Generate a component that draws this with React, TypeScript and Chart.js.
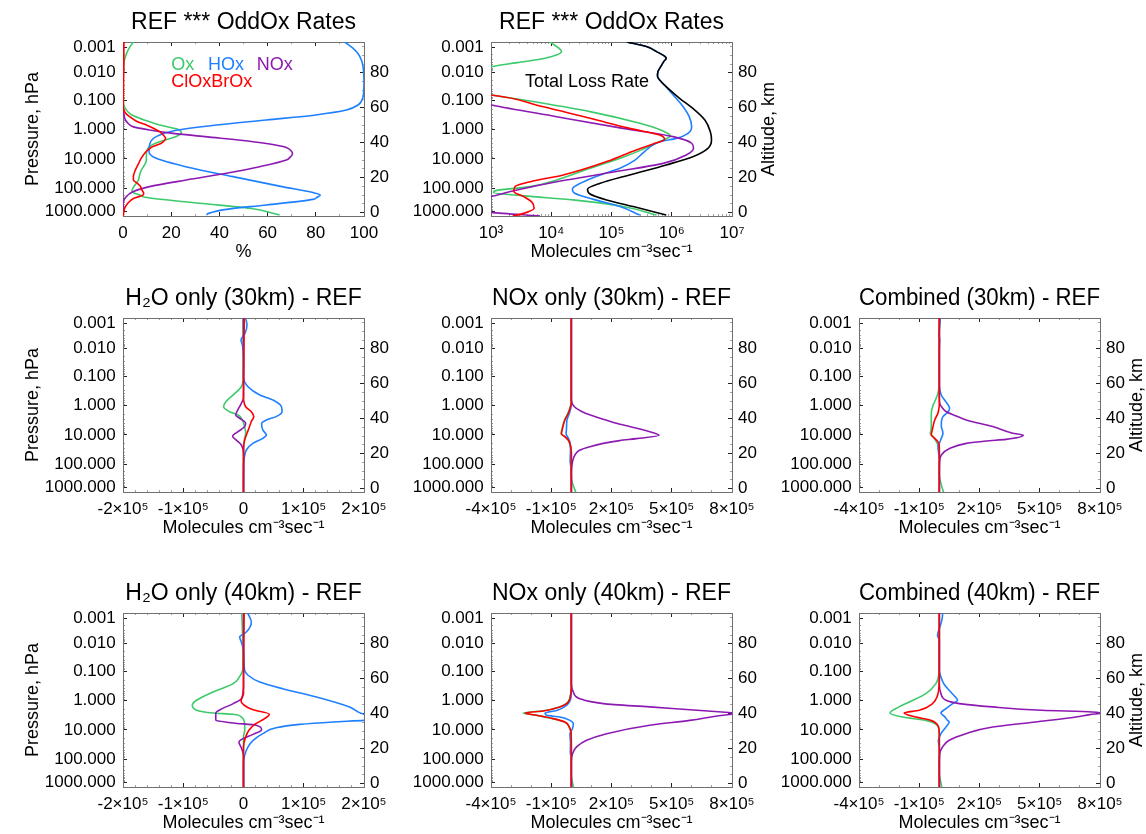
import React, { useEffect, useRef } from 'react';
import { Chart, registerables } from 'chart.js';

Chart.register(...registerables);

const FONT = "'Liberation Sans', Arial, Helvetica, sans-serif";

const OX_COLOR = '#3dca6b';
const HOX_COLOR = '#1f80ff';
const NOX_COLOR = '#8c1ab2';
const CLOX_COLOR = '#ff0000';
const TOTAL_COLOR = '#000000';

// ---- vertical axis: altitude (km); pressure labels sit at their mean altitudes ----
const ALT_MIN = -1.9;
const ALT_MAX = 97.6;
const pressureLabels = ['0.001', '0.010', '0.100', '1.000', '10.000', '100.000', '1000.000'];
const pressureAltitudes = [94.5, 80.4, 64.3, 47.6, 30.7, 14.1, 0.7];
const altitudeTicks = [0, 20, 40, 60, 80];
const altitudeMinorTicks = [5, 10, 15, 25, 30, 35, 45, 50, 55, 65, 70, 75, 85, 90, 95];

// ---- horizontal axes ----
const pctTicks = [0, 20, 40, 60, 80, 100];
const pctTickLabels = ['0', '20', '40', '60', '80', '100'];
const pctMinorTicks = [10, 30, 50, 70, 90];
const rateTicks = [1e3, 1e4, 1e5, 1e6, 1e7];
const rateTickLabels = ['10³', '10⁴', '10⁵', '10⁶', '10⁷'];
const h2oTicks = [-2e5, -1e5, 0, 1e5, 2e5];
const h2oTickLabels = ['-2×10⁵', '-1×10⁵', '0', '1×10⁵', '2×10⁵'];
const h2oMinorTicks = [-1.8e5, -1.6e5, -1.4e5, -1.2e5, -8e4, -6e4, -4e4, -2e4, 2e4, 4e4, 6e4, 8e4, 1.2e5, 1.4e5, 1.6e5, 1.8e5];
const noxTicks = [-4e5, -1e5, 2e5, 5e5, 8e5];
const noxTickLabels = ['-4×10⁵', '-1×10⁵', '2×10⁵', '5×10⁵', '8×10⁵'];
const noxMinorTicks = [-3e5, -2e5, 0, 1e5, 3e5, 4e5, 6e5, 7e5];

// log-spaced minor ticks between the pressure labels
const pressureMinorTicks: number[] = [];
for (let i = 0; i < pressureAltitudes.length - 1; i++) {
  const a = pressureAltitudes[i];
  const b = pressureAltitudes[i + 1];
  for (let k = 2; k <= 9; k++) pressureMinorTicks.push(a + (b - a) * Math.log10(k));
}
const rateMinorTicks: number[] = [];
for (let e = 3; e < 7; e++) for (let k = 2; k <= 9; k++) rateMinorTicks.push(k * 10 ** e);

// ---- profiles: [altitude km, value] ----
// OddOx loss, percent of total
const pctOx: [number, number][] = [[97.6, 4.3], [94, 2.5], [91.1, 1.5], [86.3, 0.4], [80, 0.1], [70, 0.1], [62, 0.3], [58.7, 1.4], [56, 3.5], [54, 6.9], [52, 11], [50.1, 15.2], [47.3, 23.5], [45.4, 24.2], [43.5, 22], [41.5, 17.5], [40, 14], [37.8, 11], [35, 9.8], [32, 9.7], [30, 9.7], [27, 8.8], [24.4, 7.6], [21, 6.8], [18.7, 6.4], [14.9, 4.5], [12.6, 3.7], [11.1, 4.8], [9.8, 7.5], [8.8, 9.0], [5.4, 31.8], [2.5, 52.6], [-1.3, 65]];
const pctHOx: [number, number][] = [[97.6, 92], [94, 95.5], [91, 97.5], [87, 99], [83.5, 99.6], [74, 100], [66.3, 99.6], [63.5, 98.8], [61.6, 97.5], [58.7, 92.7], [55.9, 80], [53, 59.5], [50.1, 38.7], [46.7, 20.7], [43.5, 13.8], [39.7, 11.2], [34.9, 10.8], [31.1, 13.8], [26.3, 26], [20.6, 45.6], [14.9, 66], [11.5, 78.8], [10.1, 81.9], [8.8, 80.5], [7.6, 78.8], [4.4, 59.5], [1.9, 42.9], [-0.4, 35.5], [-1.3, 34.6]];
const pctNOx: [number, number][] = [[97.6, 0], [62, 0], [60.6, 0.1], [55.9, 0.4], [53, 1.0], [51, 2.2], [49.2, 4.1], [47.3, 11], [45.5, 20], [43.5, 34], [40.6, 54], [37.8, 66.4], [35, 70], [33.6, 70.3], [31.5, 69.2], [30.1, 67.8], [26.3, 56.7], [22.5, 42.9], [18.7, 26.3], [14.9, 11], [12, 4.1], [8.8, 1.1], [5.4, 0.1], [-1.9, 0]];
const pctClOx: [number, number][] = [[97.6, 0.4], [70, 0.2], [60.6, 0.1], [57, 1.0], [54.9, 2.8], [52, 6], [50.1, 9.7], [48, 13], [46.3, 15.2], [44, 17], [42.5, 17.7], [41, 17], [39.7, 15.9], [37.8, 12.4], [36, 10.5], [34, 9.0], [31, 7.5], [28.2, 6.5], [24, 5.0], [20.5, 4.3], [18.7, 4.3], [16.8, 6.0], [14.9, 7.3], [13, 7.8], [11.1, 8.6], [10.1, 8.3], [8.2, 4.5], [5.4, 2.0], [2.5, 0.7], [-1.9, 0.1]];

// OddOx loss rates, molecules cm-3 s-1
const rateOx: [number, number][] = [[97.6, 9.5e3], [92.1, 1.48e4], [88.3, 7.9e3], [85.8, 2.7e3], [83.5, 1.0e3], [80, 300], [70, 300], [67.3, 1.0e3], [64.4, 3.5e3], [57.8, 4.4e4], [51.1, 2.95e5], [46.7, 7.2e5], [43.9, 9.5e5], [41.6, 7.2e5], [36.2, 3.3e5], [31.7, 1.55e5], [25.4, 4.4e4], [18.7, 1.23e4], [14.9, 4.5e3], [12.6, 1.2e3], [11.5, 1.1e3], [9.6, 3.5e3], [7.3, 2.3e4], [3.5, 1.55e5], [-1.3, 5.6e5]];
const rateHOx: [number, number][] = [[97.6, 1.8e5], [95, 3.8e5], [92.1, 5.6e5], [89.5, 7.6e5], [88.3, 8.1e5], [86.5, 7.4e5], [84.4, 6.8e5], [80.6, 5.9e5], [78, 5.8e5], [75.9, 6.3e5], [71.1, 8.5e5], [66.3, 1.12e6], [60.6, 1.55e6], [54.9, 1.95e6], [49.2, 2.14e6], [45.4, 1.86e6], [42.5, 1.2e6], [40.6, 6.3e5], [36.8, 4.1e5], [34, 3.3e5], [30.1, 2.45e5], [25.4, 1.38e5], [21.6, 6.5e4], [17.2, 3.2e4], [13.4, 2.24e4], [11.1, 2.45e4], [7.6, 5.0e4], [3.5, 1.38e5], [-1.3, 2.95e5]];
const rateNOx: [number, number][] = [[97.6, 100], [70, 100], [61.6, 1.02e3], [54.9, 1.23e4], [48.2, 1.55e5], [43.5, 1.05e6], [39.7, 2.14e6], [36.8, 2.3e6], [33, 1.74e6], [28.2, 7.2e5], [23.5, 1.2e5], [17.7, 1.23e4], [13, 2.7e3], [9.2, 1.0e3], [5, 300], [2, 500], [0.2, 1.0e3], [-1.9, 6.5e3]];
const rateClOx: [number, number][] = [[97.6, 100], [70, 100], [67.3, 1.0e3], [61, 6.5e3], [54, 4.4e4], [48.2, 2.0e5], [44.4, 6.3e5], [41.9, 7.6e5], [39.3, 4.9e5], [35.9, 2.57e5], [29.2, 8.3e4], [21.6, 1.58e4], [17.7, 4.5e3], [14.9, 2.5e3], [12, 2.4e3], [9.2, 3.5e3], [6.3, 4.7e3], [2.5, 5.2e3], [-0.4, 3.5e3], [-1.9, 2.3e3]];
const rateTotal: [number, number][] = [[97.6, 1.8e5], [95, 3.8e5], [92.1, 5.6e5], [89.5, 7.6e5], [88.3, 8.1e5], [86.5, 7.4e5], [84.4, 6.8e5], [80.6, 5.9e5], [78, 5.8e5], [75.9, 6.3e5], [71.1, 8.7e5], [65.4, 1.35e6], [59.7, 2.24e6], [53, 3.55e6], [46.3, 4.37e6], [41.6, 4.57e6], [36.8, 3.98e6], [32, 2.24e6], [27.3, 8.1e5], [21.6, 2.0e5], [16.8, 6.5e4], [13.4, 4.0e4], [10.7, 4.4e4], [7.3, 8.3e4], [3.5, 2.3e5], [-1.3, 8.1e5]];

// H2O perturbation at 30 km
const h2o30Ox: [number, number][] = [[97.6, -1e3], [70, -500], [62, -800], [58.3, -3.6e3], [53.6, -1.7e4], [49.8, -2.9e4], [46.9, -3.3e4], [44, -2.3e4], [42.1, -9e3], [39.3, -2e3], [35, 2e3], [32, 3.6e3], [28, 1.5e3], [24, 0], [-1.9, 0]];
const h2o30HOx: [number, number][] = [[97.6, 3.6e3], [93.6, 5.8e3], [88.8, 2.5e3], [85, -4.1e3], [82.2, -1.9e3], [75.5, 0], [64, 0], [58.3, 7.5e3], [53.6, 2.7e4], [50.7, 4.9e4], [46.9, 6.3e4], [44, 6.4e4], [41.2, 5.4e4], [39.3, 3.8e4], [37.4, 3.0e4], [33.6, 3.2e4], [30.7, 3.8e4], [28.8, 3.2e4], [26, 1.6e4], [22.1, 4.7e3], [16.4, 800], [12.6, 0], [-1.9, 0]];
const h2o30NOx: [number, number][] = [[97.6, 0], [52, 0], [48.8, -3.6e3], [44, -1.1e4], [42.1, -1.3e4], [40.2, -6e3], [37.4, 3.6e3], [35.5, 2e3], [32.6, -9e3], [30.7, -1.7e4], [29.8, -1.8e4], [27.8, -1.2e4], [25, -3.6e3], [20.2, 0], [-1.9, 0]];
const h2o30ClOx: [number, number][] = [[97.6, 1.5e3], [90, 1e3], [70, 500], [52, 0], [50.7, 200], [46.9, 3.6e3], [44, 1.3e4], [41.2, 1.7e4], [38.4, 1.3e4], [34.6, 9e3], [31.7, 5.8e3], [27.8, 2e3], [24, 300], [-1.9, 0]];

// NOx perturbation at 30 km
const nox30Ox: [number, number][] = [[97.6, 0], [50, 0], [47.8, -3e3], [43.1, -1.7e4], [39.3, -3.4e4], [34.5, -4.6e4], [31.3, -5.1e4], [29.8, -3.4e4], [27.8, -1.6e4], [25, -6e3], [21, 0], [8, 0], [3, 6e3], [-1.9, 2.2e4]];
const nox30HOx: [number, number][] = [[97.6, 0], [50, 0], [47, -1e3], [43.1, -1e4], [39, -2.2e4], [34.5, -2.4e4], [31.3, -2.6e4], [29.5, -1.8e4], [27, -8e3], [22, -4e3], [16, -6e3], [12, -2e3], [5, 0], [-1.9, 0]];
const nox30NOx: [number, number][] = [[97.6, 0], [52, 0], [49.5, 2e3], [47.5, 1.0e4], [45.9, 2.5e4], [43.1, 7e4], [40, 1.5e5], [37.4, 2.25e5], [35.5, 2.9e5], [32.6, 3.9e5], [30.5, 4.37e5], [28.6, 3.24e5], [27.5, 2.41e5], [25.9, 1.59e5], [24, 9.2e4], [22.1, 4.3e4], [19.3, 1.8e4], [15.5, 6e3], [11, 1e3], [5, 0], [-1.9, 0]];
const nox30ClOx: [number, number][] = [[97.6, 0], [49, 0], [47.8, -2e3], [43.1, -1.5e4], [39.3, -3.2e4], [34.5, -4.4e4], [31.3, -4.9e4], [29.8, -3.2e4], [27.8, -1.5e4], [25, -5e3], [21, 0], [-1.9, 0]];

// combined perturbation at 30 km
const comb30Ox: [number, number][] = [[97.6, 0], [60, 0], [54.5, -7e3], [51, -1.8e4], [47.8, -3.1e4], [43.1, -4e4], [37.4, -4e4], [33, -4.2e4], [31.7, -4.5e4], [29.8, -3.1e4], [26.9, -1.5e4], [24, -3e3], [20, 0], [8, 0], [2.1, 1e4], [-1.9, 2.1e4]];
const comb30HOx: [number, number][] = [[97.6, 5e3], [93, 2e3], [88, -2e3], [85, 2e3], [80, 0], [62, 0], [56.4, 3e3], [53, 1.2e4], [50.7, 2.6e4], [47.5, 4.6e4], [45.9, 5.1e4], [44, 4.3e4], [41.2, 1.8e4], [38, 1e4], [35.5, 1e4], [33, 1.6e4], [31.7, 1.8e4], [28.8, 1e4], [26, 0], [24, -7e3], [20, -3e3], [16, 0], [-1.9, 0]];
const comb30NOx: [number, number][] = [[97.6, 0], [52, 0], [48.8, 2e3], [46.5, 1.3e4], [44, 3.5e4], [41.5, 8.5e4], [39.3, 1.34e5], [35.5, 2.66e5], [31.7, 3.65e5], [30.5, 4.18e5], [28.2, 3.32e5], [27.3, 2.33e5], [25.9, 1.34e5], [23, 5.1e4], [19.3, 1e4], [15, 1e3], [10, 0], [-1.9, 0]];
const comb30ClOx: [number, number][] = [[97.6, 0], [50, 0], [46.9, -1e3], [43.1, -7e3], [39.3, -2.3e4], [33.6, -3.5e4], [30.7, -4e4], [28.8, -2.3e4], [26.9, -7e3], [24, 0], [-1.9, 0]];

// H2O perturbation at 40 km
const h2o40Ox: [number, number][] = [[97.6, -3e3], [90, -2e3], [75, -1e3], [66, -1e3], [62.9, -3.6e3], [57.2, -1.7e4], [52.4, -5.1e4], [47.7, -7.8e4], [44.8, -8.5e4], [42, -7.8e4], [40.4, -5.1e4], [39.7, -1.7e4], [38.1, -3.6e3], [34.3, 1.9e3], [30.5, 2e3], [27, 0], [-1.9, 0]];
const h2o40HOx: [number, number][] = [[97.6, 7e3], [97.2, 7.5e3], [92.5, 1.3e4], [86.7, 4.7e3], [83.9, -6.4e3], [81, -3.6e3], [76.3, 0], [64.8, 1.9e3], [62, 7.5e3], [58.1, 2.7e4], [54.3, 6.5e4], [49.6, 1.21e5], [43.9, 1.76e5], [39.7, 2.0e5], [38, 2.3e5], [36.2, 2.0e5], [35.3, 1.49e5], [33.9, 9.3e4], [32, 5.4e4], [28.6, 3.2e4], [24.8, 1.6e4], [21, 7.5e3], [16.2, 1.9e3], [11.5, 0], [-1.9, 0]];
const h2o40NOx: [number, number][] = [[97.6, 0], [55, 0], [53.4, -500], [48.6, -3.6e3], [45.8, -1.7e4], [42.3, -3.9e4], [40.4, -4.6e4], [36.2, -4.6e4], [34.7, -1.7e4], [33.4, 2.1e4], [30.9, 3e4], [28.2, 1.6e4], [25.7, -800], [23.8, -7.5e3], [20, -3e3], [16.2, 0], [-1.9, 0]];
const h2o40ClOx: [number, number][] = [[97.6, 1e3], [80, 500], [60, 0], [51.5, 0], [47.3, -4e3], [44, 5e3], [42.3, 1.6e4], [39.7, 4.3e4], [37.2, 3.5e4], [34, 1.9e4], [30.5, 9e3], [26.7, 3.6e3], [21, 0], [-1.9, 0]];

// NOx perturbation at 40 km
const nox40Ox: [number, number][] = [[97.6, 0], [55, 0], [52.4, -2e3], [46.7, -1.7e4], [43.9, -6e4], [41.6, -1.45e5], [40.4, -2.4e5], [39.1, -1.75e5], [37.2, -9.2e4], [35.3, -3.4e4], [32.4, -1.1e4], [28.6, -1e3], [20, 0], [5, 0], [-1.9, 1e4]];
const nox40HOx: [number, number][] = [[97.6, 0], [55, 0], [50, -1e3], [44.8, -2.4e4], [41.9, -7.3e4], [40.4, -1.31e5], [39.1, -1.23e5], [38.1, -5.7e4], [36.2, -7e3], [34.3, 1e4], [31.5, 6e3], [28.6, -7e3], [22.9, -4e3], [18, -5e3], [14, 0], [-1.9, 0]];
const nox40NOx: [number, number][] = [[97.6, 0], [57.2, 0], [52.4, 1e4], [48.6, 4.2e4], [45.8, 1.59e5], [43.9, 3.9e5], [42.3, 5.9e5], [40.6, 8e5], [40.2, 8.6e5], [39.7, 8e5], [36.2, 5.9e5], [33.4, 3.9e5], [28.6, 1.76e5], [24.8, 7.6e4], [21, 2.6e4], [17.2, 6e3], [13, 0], [-1.9, 0]];
const nox40ClOx: [number, number][] = [[97.6, 0], [55, 0], [52.4, -2e3], [46.7, -1.5e4], [43.9, -5.7e4], [41.6, -1.4e5], [40.4, -2.3e5], [39.1, -1.72e5], [37.2, -9e4], [35.3, -3.2e4], [32.4, -1e4], [28.6, -1e3], [20, 0], [-1.9, 0]];

// combined perturbation at 40 km
const comb40Ox: [number, number][] = [[97.6, 0], [66, 0], [64.8, -500], [61, -5e3], [57.2, -1.7e4], [51.5, -6.7e4], [46.7, -1.5e5], [43.9, -2e5], [40.4, -2.46e5], [38.1, -1.83e5], [36.2, -6.7e4], [34.3, -2e4], [31.5, -2e3], [25, 0], [6, 0], [2, 5e3], [-1.9, 1.2e4]];
const comb40HOx: [number, number][] = [[97.6, 1.5e4], [96.3, 1.6e4], [91.5, 8e3], [88, -2e3], [84.8, -9e3], [82, 0], [65, 0], [61, 8e3], [57, 2.3e4], [53.4, 4.9e4], [49.5, 8e4], [47.7, 9.1e4], [45.8, 6.6e4], [42.9, 3.3e4], [40.4, 8e3], [38.5, 2.5e4], [36.2, 4.1e4], [35.3, 4.9e4], [32.4, 3.3e4], [28.6, 8e3], [24.8, -5e3], [20, 0], [-1.9, 0]];
const comb40NOx: [number, number][] = [[97.6, 0], [57.2, 0], [51.5, 8e3], [47.7, 3.3e4], [45.8, 1e5], [43.9, 2.65e5], [42, 5.1e5], [41, 7.6e5], [40.4, 8.1e5], [39.5, 7.5e5], [38.1, 6.8e5], [35.3, 4.8e5], [32.4, 2.65e5], [28.6, 1.32e5], [24.8, 4.9e4], [21, 1.6e4], [17.2, 2e3], [12, 0], [-1.9, 0]];
const comb40ClOx: [number, number][] = [[97.6, 0], [60, 0], [57.2, -1e3], [50.5, -9e3], [45.8, -3.4e4], [42, -1e5], [40.4, -1.75e5], [38.1, -1.17e5], [36.2, -4.2e4], [34.3, -1.4e4], [31.5, -2e3], [25, 0], [-1.9, 0]];

// ---- layout ----
const PAD_L = 123; // space left of each plot (labels + title)
const PAD_R = 55;
const PAD_T = 42;
const PAD_B = 47;
const PLOT_W = 241;
const PLOT_H = 174;
const CW = PAD_L + PLOT_W + PAD_R;
const CH = PAD_T + PLOT_H + PAD_B;
const colLeft = [123, 491, 859];
const rowTop = [42, 318, 613];

interface Series { profile: [number, number][]; color: string; }
interface Note { text: string; x: number; y: number; color: string; }
interface PanelSpec {
  key: string;
  title: string;
  col: number;
  row: number;
  xType: 'linear' | 'logarithmic';
  xMin: number;
  xMax: number;
  xTicks: number[];
  xTickLabels: string[];
  xMinorTicks: number[];
  xTitle: string;
  pressureTitle: boolean;
  altitudeTitle: boolean;
  series: Series[]; // listed bottom layer first
  notes: Note[];
}

const RATE_TITLE = 'Molecules cm⁻³sec⁻¹';

const fourSpecies = (ox: [number, number][], hox: [number, number][], nox: [number, number][], clox: [number, number][]): Series[] => [
  { profile: ox, color: OX_COLOR },
  { profile: hox, color: HOX_COLOR },
  { profile: nox, color: NOX_COLOR },
  { profile: clox, color: CLOX_COLOR },
];

const h2oAxis = { xType: 'linear' as const, xMin: -2e5, xMax: 2e5, xTicks: h2oTicks, xTickLabels: h2oTickLabels, xMinorTicks: h2oMinorTicks, xTitle: RATE_TITLE };
const noxAxis = { xType: 'linear' as const, xMin: -4e5, xMax: 8e5, xTicks: noxTicks, xTickLabels: noxTickLabels, xMinorTicks: noxMinorTicks, xTitle: RATE_TITLE };

const panels: PanelSpec[] = [
  {
    key: 'pct', title: 'REF *** OddOx Rates', col: 0, row: 0,
    xType: 'linear', xMin: 0, xMax: 100, xTicks: pctTicks, xTickLabels: pctTickLabels, xMinorTicks: pctMinorTicks, xTitle: '%',
    pressureTitle: true, altitudeTitle: false,
    series: fourSpecies(pctOx, pctHOx, pctNOx, pctClOx),
    notes: [
      { text: 'Ox', x: 20.0, y: 84.4, color: OX_COLOR },
      { text: 'HOx', x: 35.3, y: 84.4, color: HOX_COLOR },
      { text: 'NOx', x: 55.5, y: 84.4, color: NOX_COLOR },
      { text: 'ClOxBrOx', x: 20.0, y: 74.7, color: CLOX_COLOR },
    ],
  },
  {
    key: 'rate', title: 'REF *** OddOx Rates', col: 1, row: 0,
    xType: 'logarithmic', xMin: 1e3, xMax: 1e7, xTicks: rateTicks, xTickLabels: rateTickLabels, xMinorTicks: rateMinorTicks, xTitle: RATE_TITLE,
    pressureTitle: false, altitudeTitle: true,
    series: [...fourSpecies(rateOx, rateHOx, rateNOx, rateClOx), { profile: rateTotal, color: TOTAL_COLOR }],
    notes: [{ text: 'Total Loss Rate', x: 3.66e3, y: 74.9, color: '#000' }],
  },
  { key: 'h2o30', title: 'H₂O only (30km) - REF', col: 0, row: 1, ...h2oAxis, pressureTitle: true, altitudeTitle: false, series: fourSpecies(h2o30Ox, h2o30HOx, h2o30NOx, h2o30ClOx), notes: [] },
  { key: 'nox30', title: 'NOx only (30km) - REF', col: 1, row: 1, ...noxAxis, pressureTitle: false, altitudeTitle: false, series: fourSpecies(nox30Ox, nox30HOx, nox30NOx, nox30ClOx), notes: [] },
  { key: 'comb30', title: 'Combined (30km) - REF', col: 2, row: 1, ...noxAxis, pressureTitle: false, altitudeTitle: true, series: fourSpecies(comb30Ox, comb30HOx, comb30NOx, comb30ClOx), notes: [] },
  { key: 'h2o40', title: 'H₂O only (40km) - REF', col: 0, row: 2, ...h2oAxis, pressureTitle: true, altitudeTitle: false, series: fourSpecies(h2o40Ox, h2o40HOx, h2o40NOx, h2o40ClOx), notes: [] },
  { key: 'nox40', title: 'NOx only (40km) - REF', col: 1, row: 2, ...noxAxis, pressureTitle: false, altitudeTitle: false, series: fourSpecies(nox40Ox, nox40HOx, nox40NOx, nox40ClOx), notes: [] },
  { key: 'comb40', title: 'Combined (40km) - REF', col: 2, row: 2, ...noxAxis, pressureTitle: false, altitudeTitle: true, series: fourSpecies(comb40Ox, comb40HOx, comb40NOx, comb40ClOx), notes: [] },
];

// One axis of the box: ticks point inward (negative tick length), fixed thickness.
function boxAxis(o: {
  position: 'left' | 'right' | 'top' | 'bottom';
  type: string;
  min: number;
  max: number;
  values: number[];
  labels?: string[];
  size: number;
  weight: number;
  minor?: boolean;
  labelPadding?: number;
  title?: any;
}) {
  const horizontal = o.position === 'top' || o.position === 'bottom';
  return {
    type: o.type,
    position: o.position,
    axis: horizontal ? 'x' : 'y',
    min: o.min,
    max: o.max,
    bounds: 'data',
    weight: o.weight,
    afterBuildTicks: (scale: any) => {
      scale.ticks = o.values.map((v) => ({ value: v }));
    },
    afterFit: (scale: any) => {
      if (horizontal) scale.height = o.size;
      else scale.width = o.size;
    },
    ticks: {
      display: !!o.labels,
      autoSkip: false,
      maxRotation: 0,
      minRotation: 0,
      padding: o.labelPadding ?? 0,
      color: '#000',
      font: { family: FONT, size: 17 },
      callback: (_v: any, i: number) => (o.labels ? o.labels[i] : ''),
    },
    grid: {
      display: true,
      drawOnChartArea: false,
      drawTicks: true,
      tickLength: o.minor ? -2 : -4,
      tickColor: o.minor ? '#a0a0a0' : '#222',
      tickWidth: 1,
    },
    border: { display: !o.minor, color: '#707070', width: 1 },
    title: o.title ?? { display: false },
  };
}

function buildConfig(spec: PanelSpec): any {
  const xr = { type: spec.xType, min: spec.xMin, max: spec.xMax };
  const yr = { type: 'linear', min: ALT_MIN, max: ALT_MAX };
  const axisTitleFont = { family: FONT, size: 18 };

  const textPlugin = {
    id: 'panelText',
    afterDraw(chart: any) {
      const { ctx, chartArea } = chart;
      const xs = chart.scales.x;
      const ys = chart.scales.y;
      ctx.save();
      ctx.font = `18px ${FONT}`;
      ctx.textBaseline = 'middle';
      ctx.textAlign = 'left';
      for (const n of spec.notes) {
        ctx.fillStyle = n.color;
        ctx.fillText(n.text, xs.getPixelForValue(n.x), ys.getPixelForValue(n.y));
      }
      if (spec.altitudeTitle) {
        ctx.fillStyle = '#000';
        ctx.translate(chartArea.right + 37, (chartArea.top + chartArea.bottom) / 2);
        ctx.rotate(-Math.PI / 2);
        ctx.textAlign = 'center';
        ctx.fillText('Altitude, km', 0, 0);
      }
      ctx.restore();
    },
  };

  // Chart.js paints the first dataset last, so reverse to keep the listed layering
  const layered = [...spec.series].reverse();

  return {
    type: 'line',
    data: {
      datasets: layered.map((s) => ({
        data: s.profile.map(([alt, v]) => ({ x: v, y: alt })),
        borderColor: s.color,
        borderWidth: 1.6,
        pointRadius: 0,
        fill: false,
        cubicInterpolationMode: 'monotone',
        xAxisID: 'x',
        yAxisID: 'y',
      })),
    },
    options: {
      responsive: false,
      maintainAspectRatio: false,
      animation: false,
      devicePixelRatio: 1,
      indexAxis: 'y',
      events: [],
      layout: { padding: 0, autoPadding: false },
      plugins: {
        legend: { display: false },
        tooltip: { enabled: false },
        title: {
          display: true,
          text: spec.title,
          fullSize: false,
          color: '#000',
          font: { family: FONT, size: 23, weight: 'normal', lineHeight: 1.2 },
          padding: { top: 9.2, bottom: 5.2 },
        },
      },
      scales: {
        x: boxAxis({
          ...xr, position: 'bottom', values: spec.xTicks, labels: spec.xTickLabels, size: PAD_B, weight: 0, labelPadding: 11.5,
          title: { display: true, text: spec.xTitle, color: '#000', font: axisTitleFont, padding: { top: 0, bottom: 0 } },
        }),
        xMinor: boxAxis({ ...xr, position: 'bottom', values: spec.xMinorTicks, size: 0, weight: -1, minor: true }),
        xTop: boxAxis({ ...xr, position: 'top', values: spec.xTicks, size: 0, weight: 0 }),
        xTopMinor: boxAxis({ ...xr, position: 'top', values: spec.xMinorTicks, size: 0, weight: -1, minor: true }),
        y: boxAxis({
          ...yr, position: 'left', values: pressureAltitudes, labels: pressureLabels, size: PAD_L, weight: 0, labelPadding: 11.3,
          title: spec.pressureTitle
            ? { display: true, text: 'Pressure, hPa', color: '#000', font: axisTitleFont, padding: { top: 22, bottom: 0 } }
            : { display: false },
        }),
        yMinor: boxAxis({ ...yr, position: 'left', values: pressureMinorTicks, size: 0, weight: -1, minor: true }),
        yAlt: boxAxis({
          ...yr, position: 'right', values: altitudeTicks, labels: altitudeTicks.map(String), size: PAD_R, weight: 0, labelPadding: 10,
        }),
        yAltMinor: boxAxis({ ...yr, position: 'right', values: altitudeMinorTicks, size: 0, weight: -1, minor: true }),
      },
    },
    plugins: [textPlugin],
  };
}

function Panel({ spec }: { spec: PanelSpec }) {
  const ref = useRef<HTMLCanvasElement>(null);
  useEffect(() => {
    if (!ref.current) return;
    const chart = new Chart(ref.current, buildConfig(spec));
    return () => chart.destroy();
  }, [spec]);
  return (
    <canvas
      ref={ref}
      width={CW}
      height={CH}
      style={{
        position: 'absolute',
        left: colLeft[spec.col] - PAD_L,
        top: rowTop[spec.row] - PAD_T,
        width: CW,
        height: CH,
      }}
    />
  );
}

export default function App() {
  return (
    <div
      style={{
        position: 'absolute',
        left: 0,
        top: 0,
        width: 1146,
        height: 834,
        overflow: 'hidden',
        background: '#ffffff',
      }}
    >
      {panels.map((p) => (
        <Panel key={p.key} spec={p} />
      ))}
    </div>
  );
}
